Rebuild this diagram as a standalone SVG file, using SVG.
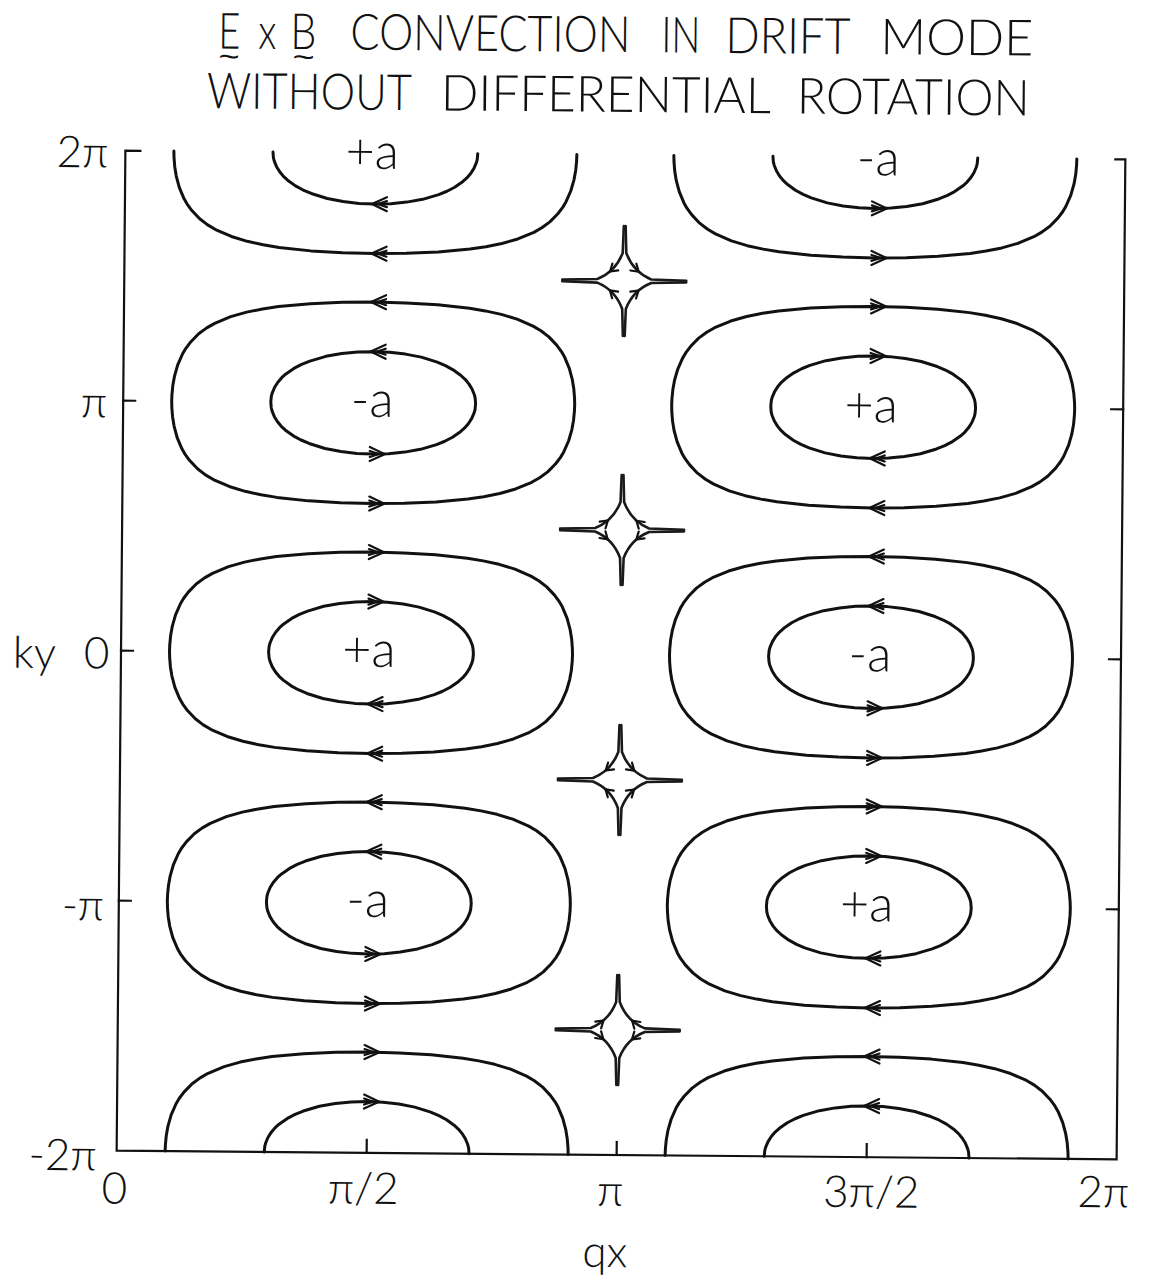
<svg xmlns="http://www.w3.org/2000/svg" width="1155" height="1284" viewBox="0 0 1155 1284">
<style>
.txt { font-family: Lato, "Liberation Sans", "DejaVu Sans", sans-serif; font-weight: 300; fill: #111; }
.title { font-size: 50px; }
.ax { font-size: 44px; }
.cl { font-size: 50px; text-anchor: middle; }
.tilde { font-family: "Liberation Sans", sans-serif; font-size: 30px; fill: #111; }
.cont { fill: none; stroke: #111; stroke-width: 3; stroke-linejoin: round; stroke-linecap: round; }
.arr { fill: none; stroke: #111; stroke-width: 2.2; stroke-linejoin: miter; stroke-linecap: round; }
.star { fill: none; stroke: #1a1a1a; stroke-width: 2.6; stroke-linejoin: round; stroke-linecap: round; }
.frame { fill: none; stroke: #111; stroke-width: 2.2; stroke-linecap: square; }
</style>
<defs>
<path id="inL" class="cont" d="M0,-51.2 L15.9,-50.7 L31.8,-49 L47.7,-46.1 L63.7,-41.2 L71.9,-37.8 L79.6,-33.7 L87.5,-28.1 L91.7,-24.3 L95.5,-19.8 L98.7,-14.7 L101.1,-8.9 L101.9,-5.8 L102.4,0 L101.9,5.8 L101.1,8.9 L98.7,14.7 L95.5,19.8 L91.7,24.3 L87.5,28.1 L79.6,33.7 L71.9,37.8 L63.7,41.2 L47.7,46.1 L31.8,49 L15.9,50.7 L0,51.2 L-15.9,50.7 L-31.8,49 L-47.7,46.1 L-63.7,41.2 L-71.9,37.8 L-79.6,33.7 L-87.5,28.1 L-91.7,24.3 L-95.5,19.8 L-98.7,14.7 L-101.1,8.9 L-101.9,5.8 L-102.4,0 L-101.9,-5.8 L-101.1,-8.9 L-98.7,-14.7 L-95.5,-19.8 L-91.7,-24.3 L-87.5,-28.1 L-79.6,-33.7 L-71.9,-37.8 L-63.7,-41.2 L-47.7,-46.1 L-31.8,-49 L-15.9,-50.7 Z"/>
<path id="outL" class="cont" d="M0,-100.75 L31.8,-100.2 L63.7,-98.6 L95.5,-95.4 L111.4,-92.9 L127.3,-89.6 L143.2,-84.9 L159.2,-78.1 L167.1,-73.5 L175.1,-67.5 L183,-59.3 L187.8,-52.9 L191,-47.4 L195.8,-36.2 L198.9,-25 L200.5,-15.6 L201.3,-6.5 L201.5,0 L201.3,6.5 L200.5,15.6 L198.9,25 L195.8,36.2 L191,47.4 L187.8,52.9 L183,59.3 L175.1,67.5 L167.1,73.5 L159.2,78.1 L143.2,84.9 L127.3,89.6 L111.4,92.9 L95.5,95.4 L63.7,98.6 L31.8,100.2 L0,100.75 L-31.8,100.2 L-63.7,98.6 L-95.5,95.4 L-111.4,92.9 L-127.3,89.6 L-143.2,84.9 L-159.2,78.1 L-167.1,73.5 L-175.1,67.5 L-183,59.3 L-187.8,52.9 L-191,47.4 L-195.8,36.2 L-198.9,25 L-200.5,15.6 L-201.3,6.5 L-201.5,0 L-201.3,-6.5 L-200.5,-15.6 L-198.9,-25 L-195.8,-36.2 L-191,-47.4 L-187.8,-52.9 L-183,-59.3 L-175.1,-67.5 L-167.1,-73.5 L-159.2,-78.1 L-143.2,-84.9 L-127.3,-89.6 L-111.4,-92.9 L-95.5,-95.4 L-63.7,-98.6 L-31.8,-100.2 Z"/>
<path id="inH" class="cont" d="M-102.4,0 L-101.9,5.8 L-101.1,8.9 L-98.7,14.7 L-95.5,19.8 L-91.7,24.3 L-87.5,28.1 L-79.6,33.7 L-71.9,37.8 L-63.7,41.2 L-47.7,46.1 L-31.8,49 L-15.9,50.7 L0,51.2 L15.9,50.7 L31.8,49 L47.7,46.1 L63.7,41.2 L71.9,37.8 L79.6,33.7 L87.5,28.1 L91.7,24.3 L95.5,19.8 L98.7,14.7 L101.1,8.9 L101.9,5.8 L102.4,0"/>
<path id="outH" class="cont" d="M-201.5,0 L-201.3,6.5 L-200.5,15.6 L-198.9,25 L-195.8,36.2 L-191,47.4 L-187.8,52.9 L-183,59.3 L-175.1,67.5 L-167.1,73.5 L-159.2,78.1 L-143.2,84.9 L-127.3,89.6 L-111.4,92.9 L-95.5,95.4 L-63.7,98.6 L-31.8,100.2 L0,100.75 L31.8,100.2 L63.7,98.6 L95.5,95.4 L111.4,92.9 L127.3,89.6 L143.2,84.9 L159.2,78.1 L167.1,73.5 L175.1,67.5 L183,59.3 L187.8,52.9 L191,47.4 L195.8,36.2 L198.9,25 L200.5,15.6 L201.3,6.5 L201.5,0"/>
<path id="aL" class="arr" d="M12,-7 L-3,0 L12,7 M12,-3 L3,0 L12,3"/>
<path id="aR" class="arr" d="M-3,-7 L12,0 L-3,7 M-3,-3 L6,0 L-3,3"/>
<path id="br" class="star" d="M62,-0.8 L27,-1.8 Q9,-9 1.8,-28 L0.9,-55"/>
<path id="sh" class="arr" d="M-7,-4.5 L0,0 L-7,4.5"/>
<g id="brA"><use href="#br"/><use href="#sh" transform="translate(14.3,-9.4) rotate(-139)"/></g>
<g id="brB"><use href="#br"/><use href="#sh" transform="translate(14.3,-9.4) rotate(41)"/></g>
</defs>
<rect x="0" y="0" width="1155" height="1284" fill="#fff"/>
<g transform="rotate(0.5 621 655)">
<g id="title">
<text class="txt title" x="213" y="52" textLength="22" lengthAdjust="spacingAndGlyphs">E</text>
<text class="txt title" x="253" y="52" font-size="34" textLength="18" lengthAdjust="spacingAndGlyphs">x</text>
<text class="txt title" x="285" y="52" textLength="26" lengthAdjust="spacingAndGlyphs">B</text>
<text class="txt title" x="345" y="52" textLength="280" lengthAdjust="spacingAndGlyphs">CONVECTION</text>
<text class="txt title" x="656" y="52" textLength="39" lengthAdjust="spacingAndGlyphs">IN</text>
<text class="txt title" x="720" y="52" textLength="125" lengthAdjust="spacingAndGlyphs">DRIFT</text>
<text class="txt title" x="875" y="52" textLength="153" lengthAdjust="spacingAndGlyphs">MODE</text>
<text class="tilde" x="213.5" y="70" textLength="21" lengthAdjust="spacingAndGlyphs">~</text>
<text class="tilde" x="287.5" y="70" textLength="22" lengthAdjust="spacingAndGlyphs">~</text>
<text class="txt title" x="202" y="112" textLength="205" lengthAdjust="spacingAndGlyphs">WITHOUT</text>
<text class="txt title" x="436" y="112" textLength="330" lengthAdjust="spacingAndGlyphs">DIFFERENTIAL</text>
<text class="txt title" x="792" y="112" textLength="233" lengthAdjust="spacingAndGlyphs">ROTATION</text>
</g>
<g id="axes">
<path class="frame" d="M136,155 L121,155 L121,1155 L1121,1155 L1121,155 L1111,155"/>
<path class="frame" d="M121,405 H133 M121,655 H133 M121,905 H133 M1121,405 H1109 M1121,655 H1109 M1121,905 H1109 M371,1155 V1142 M621,1155 V1142 M871,1155 V1142"/>
<text class="txt ax" x="104" y="172" text-anchor="end">2π</text>
<text class="txt ax" x="105" y="422" text-anchor="end">π</text>
<text class="txt ax" x="13" y="673">ky<tspan x="84"> </tspan><tspan x="84">0</tspan></text>
<text class="txt ax" x="106" y="925" text-anchor="end">-π</text>
<text class="txt ax" x="101" y="1175" text-anchor="end">-2π</text>
<text class="txt ax" x="119" y="1208" text-anchor="middle" font-size="50">0</text>
<text class="txt ax" x="368" y="1206" text-anchor="middle">π/2</text>
<text class="txt ax" x="615" y="1206" text-anchor="middle">π</text>
<text class="txt ax" x="876" y="1205" text-anchor="middle">3π/2</text>
<text class="txt ax" x="1108" y="1203" text-anchor="middle">2π</text>
<text class="txt ax" x="610" y="1267" text-anchor="middle" font-size="46">qx</text>
</g>
<g id="cell-top-left">
<use href="#inH" transform="translate(371,155)"/>
<use href="#outH" transform="translate(371,155)"/>
<use href="#aL" transform="translate(371,206.2)"/>
<use href="#aL" transform="translate(371,255.75)"/>
<text class="txt cl" x="368" y="171">+a</text>
</g>
<g id="cell-top-right">
<use href="#inH" transform="translate(871,155)"/>
<use href="#outH" transform="translate(871,155)"/>
<use href="#aR" transform="translate(871,206.2)"/>
<use href="#aR" transform="translate(871,255.75)"/>
<text class="txt cl" x="874" y="173">-a</text>
</g>
<g id="cell-pi-left">
<use href="#inL" transform="translate(371,405)"/>
<use href="#outL" transform="translate(371,405)"/>
<use href="#aL" transform="translate(371,353.8)"/>
<use href="#aL" transform="translate(371,304.25)"/>
<use href="#aR" transform="translate(371,456.2)"/>
<use href="#aR" transform="translate(371,505.75)"/>
<text class="txt cl" x="370" y="419">-a</text>
</g>
<g id="cell-pi-right">
<use href="#inL" transform="translate(871,405)"/>
<use href="#outL" transform="translate(871,405)"/>
<use href="#aR" transform="translate(871,353.8)"/>
<use href="#aR" transform="translate(871,304.25)"/>
<use href="#aL" transform="translate(871,456.2)"/>
<use href="#aL" transform="translate(871,505.75)"/>
<text class="txt cl" x="869" y="420">+a</text>
</g>
<g id="cell-0-left">
<use href="#inL" transform="translate(371,655)"/>
<use href="#outL" transform="translate(371,655)"/>
<use href="#aR" transform="translate(371,603.8)"/>
<use href="#aR" transform="translate(371,554.25)"/>
<use href="#aL" transform="translate(371,706.2)"/>
<use href="#aL" transform="translate(371,755.75)"/>
<text class="txt cl" x="369" y="669">+a</text>
</g>
<g id="cell-0-right">
<use href="#inL" transform="translate(871,655)"/>
<use href="#outL" transform="translate(871,655)"/>
<use href="#aL" transform="translate(871,603.8)"/>
<use href="#aL" transform="translate(871,554.25)"/>
<use href="#aR" transform="translate(871,706.2)"/>
<use href="#aR" transform="translate(871,755.75)"/>
<text class="txt cl" x="870" y="669">-a</text>
</g>
<g id="cell-mpi-left">
<use href="#inL" transform="translate(371,905)"/>
<use href="#outL" transform="translate(371,905)"/>
<use href="#aL" transform="translate(371,853.8)"/>
<use href="#aL" transform="translate(371,804.25)"/>
<use href="#aR" transform="translate(371,956.2)"/>
<use href="#aR" transform="translate(371,1005.75)"/>
<text class="txt cl" x="370" y="919">-a</text>
</g>
<g id="cell-mpi-right">
<use href="#inL" transform="translate(871,905)"/>
<use href="#outL" transform="translate(871,905)"/>
<use href="#aR" transform="translate(871,853.8)"/>
<use href="#aR" transform="translate(871,804.25)"/>
<use href="#aL" transform="translate(871,956.2)"/>
<use href="#aL" transform="translate(871,1005.75)"/>
<text class="txt cl" x="869" y="919">+a</text>
</g>
<g id="cell-bottom-left">
<use href="#inH" transform="translate(371,1155) scale(1,-1)"/>
<use href="#outH" transform="translate(371,1155) scale(1,-1)"/>
<use href="#aR" transform="translate(371,1103.8)"/>
<use href="#aR" transform="translate(371,1054.25)"/>
</g>
<g id="cell-bottom-right">
<use href="#inH" transform="translate(871,1155) scale(1,-1)"/>
<use href="#outH" transform="translate(871,1155) scale(1,-1)"/>
<use href="#aL" transform="translate(871,1103.8)"/>
<use href="#aL" transform="translate(871,1054.25)"/>
</g>
<g id="saddles">
<g id="saddle-1" transform="translate(621,281)"><use href="#brB"/><use href="#brB" transform="scale(-1,1)"/><use href="#brB" transform="scale(1,-1)"/><use href="#brB" transform="scale(-1,-1)"/></g>
<g id="saddle-2" transform="translate(621,530)"><use href="#brA"/><use href="#brA" transform="scale(-1,1)"/><use href="#brA" transform="scale(1,-1)"/><use href="#brA" transform="scale(-1,-1)"/></g>
<g id="saddle-3" transform="translate(621,780)"><use href="#brB"/><use href="#brB" transform="scale(-1,1)"/><use href="#brB" transform="scale(1,-1)"/><use href="#brB" transform="scale(-1,-1)"/></g>
<g id="saddle-4" transform="translate(621,1030)"><use href="#brA"/><use href="#brA" transform="scale(-1,1)"/><use href="#brA" transform="scale(1,-1)"/><use href="#brA" transform="scale(-1,-1)"/></g>
</g>
</g>
</svg>
